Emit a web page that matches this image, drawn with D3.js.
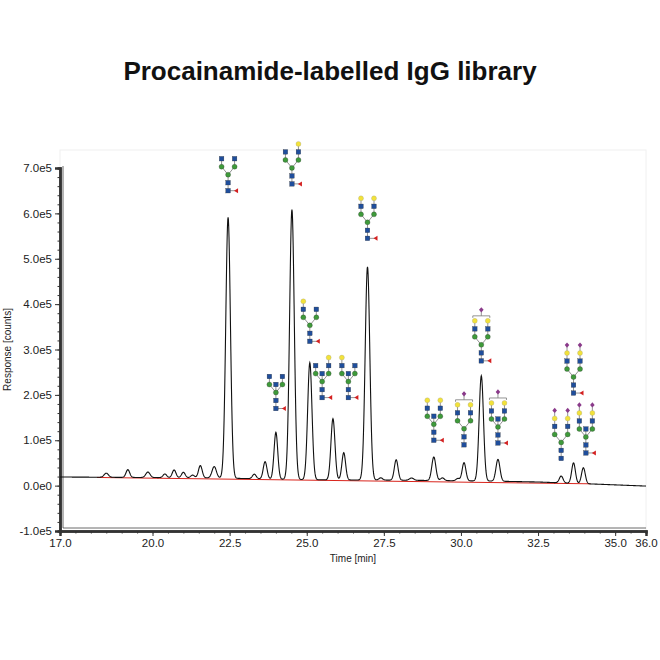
<!DOCTYPE html>
<html>
<head>
<meta charset="utf-8">
<script src="https://cdn.jsdelivr.net/npm/d3@7"></script>
<style>
  body { margin: 0; background: #fff; }
  text { font-family: "Liberation Sans", Arial, sans-serif; }
</style>
</head>
<body>
<svg id="chart" width="660" height="660"></svg>
<script>
// Peak table (retention time in min, apex in counts x1e5)
const peakTimes   = [18.5, 19.2, 19.85, 20.4, 20.7, 21.0, 21.3, 21.55, 22.0, 22.45, 23.3, 23.65, 24.0, 24.52, 25.1,
                     25.85, 26.2, 26.97, 27.4, 27.9, 28.4, 29.12, 29.4, 29.9, 30.1, 30.66, 31.2, 33.25, 33.65, 33.97];
const peakHeights = [0.09, 0.17, 0.12, 0.08, 0.17, 0.12, 0.06, 0.27, 0.25, 5.75, 0.1, 0.38, 1.03, 5.95, 2.58,
                     1.35, 0.6, 4.7, 0.05, 0.45, 0.05, 0.52, 0.06, 0.05, 0.4, 2.32, 0.48, 0.15, 0.45, 0.35];
const peakWidths  = [0.07, 0.06, 0.07, 0.06, 0.06, 0.06, 0.06, 0.06, 0.07, 0.075, 0.06, 0.06, 0.06, 0.075, 0.07,
                     0.065, 0.06, 0.075, 0.06, 0.06, 0.07, 0.065, 0.06, 0.06, 0.06, 0.07, 0.065, 0.06, 0.06, 0.06];
// baseline drift knots (min, x1e5)
const baseTimes  = [17.0, 22.0, 25.0, 28.0, 31.0, 32.5, 34.5, 36.0];
const baseValues = [0.19, 0.17, 0.13, 0.12, 0.1, 0.08, 0.03, -0.01];
// integration baseline (red)
const redTimes  = [18.2, 34.2];
const redValues = [0.18, 0.04];

const xTicks = [17.0, 20.0, 22.5, 25.0, 27.5, 30.0, 32.5, 35.0, 36.0];
const yTicks = [-1, 0, 1, 2, 3, 4, 5, 6, 7];

// glycan annotations: [time, response of bottom residue (x1e5), left arm, right arm, bisect, fucose, sialic bracket]
// arm residues: N = GlcNAc, G = galactose, S = sialic acid
const glycanTimes = [22.45, 24.52, 24.0, 25.1, 25.5, 26.35, 26.97, 29.12, 30.1, 30.66, 31.2, 33.65, 33.25, 34.05];
const glycanBase  = [6.5, 6.65, 1.7, 3.18, 1.94, 1.94, 5.45, 1.0, 0.9, 2.75, 0.94, 2.04, 0.6, 0.72];
const glycanLeft  = ["N", "N", "N", "NG", "N", "NG", "NG", "NG", "NG", "NG", "NG", "NGS", "NGS", "NGS"];
const glycanRight = ["N", "NG", "N", "N", "NG", "N", "NG", "NG", "NG", "NG", "NG", "NGS", "NGS", "NGS"];
const glycanBisect = [0, 0, 1, 0, 1, 1, 0, 1, 0, 0, 1, 0, 0, 1];
const glycanFuc    = [1, 1, 1, 1, 1, 1, 1, 1, 0, 1, 1, 1, 0, 1];
const glycanBracket = [0, 0, 0, 0, 0, 0, 0, 0, 1, 1, 1, 0, 0, 0];

const svg = d3.select("#chart");
const m = {left: 60, right: 646, top: 168, bottom: 531};

const x = d3.scaleLinear().domain([17, 36]).range([m.left, m.right]);
const y = d3.scaleLinear().domain([-1, 7]).range([m.bottom, m.top]);

svg.append("text")
  .attr("x", 330).attr("y", 80)
  .attr("text-anchor", "middle")
  .attr("font-size", 26).attr("font-weight", "bold")
  .attr("fill", "#111")
  .text("Procainamide-labelled IgG library");

// faint frame
svg.append("rect")
  .attr("x", m.left).attr("y", 150).attr("width", m.right - m.left).attr("height", m.bottom - 150)
  .attr("fill", "none").attr("stroke", "#f0f0f0");

// axes
svg.append("g").attr("transform", `translate(${m.left},0)`)
  .call(d3.axisLeft(y).tickValues(yTicks).tickSize(5).tickFormat(d => d.toFixed(1) + "e" + (d === 0 ? 0 : 5)));
svg.append("g").attr("transform", `translate(${m.left},0)`)
  .call(d3.axisLeft(y).tickValues(d3.range(-1, 7.01, 0.2)).tickSize(2.5).tickFormat(""));
svg.append("g").attr("transform", `translate(0,${m.bottom})`)
  .call(d3.axisBottom(x).tickValues(xTicks).tickSize(5).tickFormat(d3.format(".1f")));
svg.append("g").attr("transform", `translate(0,${m.bottom})`)
  .call(d3.axisBottom(x).tickValues(d3.range(17, 36.01, 0.5)).tickSize(2.5).tickFormat(""));
svg.selectAll(".domain").attr("stroke", "#333").attr("stroke-width", 2.5);
svg.selectAll(".tick line").attr("stroke", "#333");
svg.selectAll(".tick text").attr("font-size", 11.5).attr("fill", "#222")
  .attr("font-family", "Liberation Sans, Arial, sans-serif");
// double line effect
svg.append("line").attr("x1", m.left + 3).attr("x2", m.left + 3).attr("y1", 166).attr("y2", m.bottom - 3)
  .attr("stroke", "#444").attr("stroke-width", 0.8);
svg.append("line").attr("x1", m.left + 3).attr("x2", m.right).attr("y1", m.bottom - 3).attr("y2", m.bottom - 3)
  .attr("stroke", "#444").attr("stroke-width", 0.8);

svg.append("text")
  .attr("transform", `translate(11,${y(3)}) rotate(-90)`)
  .attr("text-anchor", "middle").attr("font-size", 10).attr("fill", "#222")
  .text("Response [counts]");
svg.append("text")
  .attr("x", x(26.5)).attr("y", 562)
  .attr("text-anchor", "middle").attr("font-size", 10).attr("fill", "#222")
  .text("Time [min]");

// trace
const baseAt = d3.scaleLinear().domain(baseTimes).range(baseValues);
const tGrid = d3.range(17, 36.001, 0.01);
const trace = tGrid.map(t => {
  let v = baseAt(t);
  peakTimes.forEach((pt, i) => {
    const z = (t - pt) / peakWidths[i];
    v += peakHeights[i] * Math.exp(-0.5 * z * z);
  });
  return [t, v];
});

svg.append("line")
  .attr("x1", x(redTimes[0])).attr("x2", x(redTimes[1]))
  .attr("y1", y(redValues[0])).attr("y2", y(redValues[1]))
  .attr("stroke", "#d9241c").attr("stroke-width", 1);

svg.append("path")
  .datum(trace)
  .attr("fill", "none").attr("stroke", "#111").attr("stroke-width", 1.1)
  .attr("d", d3.line().x(d => x(d[0])).y(d => y(d[1])));

// glycan cartoons
const S = 8, H = 6.5, R = 2.3;
const col = {N: "#1f4e9c", M: "#3e9a3a", G: "#f2e23a", F: "#d42020", S: "#8a3a8a"};
function residue(g, type, cx, cy) {
  if (type === "N") {
    g.append("rect").attr("x", cx - R).attr("y", cy - R).attr("width", 2 * R).attr("height", 2 * R)
      .attr("fill", col.N).attr("stroke", "#333").attr("stroke-width", 0.3);
  } else if (type === "S") {
    g.append("path").attr("d", `M${cx},${cy - R - 0.3}L${cx + R},${cy}L${cx},${cy + R + 0.3}L${cx - R},${cy}Z`)
      .attr("fill", col.S);
  } else {
    g.append("circle").attr("cx", cx).attr("cy", cy).attr("r", R + 0.2)
      .attr("fill", col[type]).attr("stroke", type === "G" ? "#999" : "#333").attr("stroke-width", 0.3);
  }
}
glycanTimes.forEach((t, i) => {
  const g = svg.append("g");
  const cx = x(t), by = y(glycanBase[i]);
  const links = g.append("g").attr("stroke", "#777").attr("stroke-width", 0.8);
  const manY = by - 2 * S;
  const armY = manY - S;
  links.append("line").attr("x1", cx).attr("x2", cx).attr("y1", by).attr("y2", manY);
  if (glycanFuc[i]) links.append("line").attr("x1", cx).attr("x2", cx + 8).attr("y1", by).attr("y2", by);
  [[-1, glycanLeft[i]], [1, glycanRight[i]]].forEach(([s, arm]) => {
    const ax = cx + s * H;
    links.append("line").attr("x1", cx).attr("x2", ax).attr("y1", manY).attr("y2", armY);
    links.append("line").attr("x1", ax).attr("x2", ax).attr("y1", armY).attr("y2", armY - arm.length * S);
  });
  if (glycanBisect[i]) links.append("line").attr("x1", cx).attr("x2", cx).attr("y1", manY).attr("y2", armY);
  const topY = armY - 2 * S;
  if (glycanBracket[i]) {
    links.append("path")
      .attr("d", `M${cx - H - 2},${topY - 3}L${cx - H - 2},${topY - 5}L${cx + H + 2},${topY - 5}L${cx + H + 2},${topY - 3}`)
      .attr("fill", "none");
    links.append("line").attr("x1", cx).attr("x2", cx).attr("y1", topY - 5).attr("y2", topY - 10);
  }
  residue(g, "N", cx, by);
  residue(g, "N", cx, by - S);
  residue(g, "M", cx, manY);
  if (glycanFuc[i]) {
    g.append("path").attr("d", `M${cx + 6},${by}L${cx + 10},${by - 2.5}L${cx + 10},${by + 2.5}Z`).attr("fill", col.F);
  }
  [[-1, glycanLeft[i]], [1, glycanRight[i]]].forEach(([s, arm]) => {
    const ax = cx + s * H;
    residue(g, "M", ax, armY);
    arm.split("").forEach((r, k) => residue(g, r, ax, armY - (k + 1) * S));
  });
  if (glycanBisect[i]) residue(g, "N", cx, armY);
  if (glycanBracket[i]) residue(g, "S", cx, topY - 11);
});
</script>
</body>
</html>
